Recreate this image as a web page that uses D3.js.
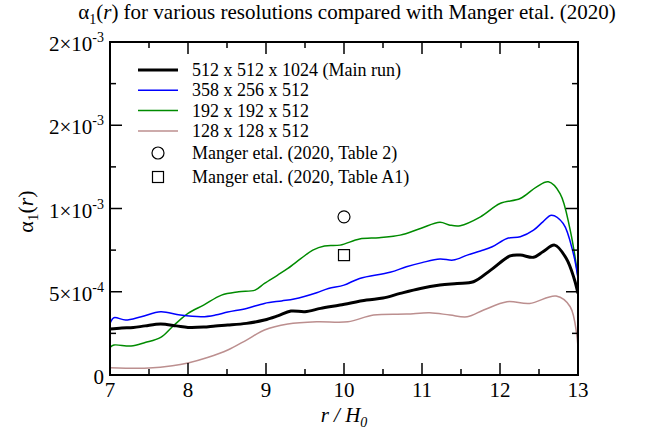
<!DOCTYPE html>
<html>
<head>
<meta charset="utf-8">
<script src="https://cdn.jsdelivr.net/npm/d3@7"></script>
<style>
  body { margin: 0; background: #fff; }
  svg { display: block; }
</style>
</head>
<body>
<script>
// radius in units of H0, alpha_1 in units of 1e-4
const mainR = [7.0, 7.15, 7.3, 7.45, 7.65, 7.85, 8.0, 8.2, 8.35, 8.51, 8.75, 8.98, 9.15, 9.32, 9.5, 9.7, 9.95, 10.29, 10.5, 10.72, 10.98, 11.23, 11.45, 11.66, 11.88, 12.13, 12.26, 12.43, 12.55, 12.7, 12.85, 12.95, 13.0]
const mainA = [2.76, 2.82, 2.85, 2.95, 3.06, 2.95, 2.86, 2.88, 2.95, 3.0, 3.1, 3.3, 3.55, 3.84, 3.8, 4.0, 4.2, 4.5, 4.62, 4.9, 5.2, 5.4, 5.5, 5.6, 6.3, 7.15, 7.2, 7.07, 7.4, 7.8, 7.0, 5.8, 4.9]

const r358R = [7.0, 7.05, 7.2, 7.4, 7.65, 7.9, 8.18, 8.35, 8.51, 8.75, 8.98, 9.2, 9.36, 9.65, 9.8, 10.0, 10.2, 10.59, 10.8, 11.0, 11.23, 11.4, 11.58, 11.75, 11.9, 12.09, 12.26, 12.43, 12.55, 12.66, 12.81, 12.94, 13.0]
const r358A = [3.1, 3.44, 3.3, 3.5, 3.8, 3.6, 3.5, 3.6, 3.78, 4.0, 4.3, 4.45, 4.56, 4.94, 5.2, 5.4, 5.8, 6.17, 6.5, 6.75, 6.97, 6.9, 7.2, 7.45, 7.7, 8.2, 8.3, 8.7, 9.2, 9.6, 9.1, 7.3, 5.8]

const r192R = [7.0, 7.05, 7.27, 7.45, 7.65, 7.8, 8.0, 8.2, 8.43, 8.65, 8.86, 8.98, 9.15, 9.28, 9.45, 9.6, 9.75, 9.95, 10.2, 10.45, 10.72, 10.98, 11.23, 11.36, 11.49, 11.75, 12.0, 12.26, 12.47, 12.62, 12.77, 12.9, 13.0]
const r192A = [1.66, 1.8, 1.74, 1.95, 2.26, 2.9, 3.7, 4.2, 4.8, 5.0, 5.1, 5.5, 6.0, 6.4, 7.0, 7.5, 7.75, 7.8, 8.17, 8.25, 8.4, 8.8, 9.17, 9.0, 8.97, 9.5, 10.3, 10.6, 11.3, 11.6, 10.9, 8.7, 5.9]

const r128R = [7.0, 7.5, 7.8, 8.0, 8.25, 8.51, 8.75, 8.98, 9.28, 9.65, 10.05, 10.38, 10.8, 11.1, 11.36, 11.58, 11.79, 12.09, 12.38, 12.72, 12.9, 13.0]
const r128A = [0.44, 0.42, 0.55, 0.72, 1.05, 1.5, 2.1, 2.7, 3.06, 3.2, 3.2, 3.6, 3.66, 3.74, 3.6, 3.5, 3.9, 4.4, 4.3, 4.74, 4.1, 1.7]

const seriesNames = ['512 x 512 x 1024 (Main run)', '358 x 256 x 512', '192 x 192 x 512', '128 x 128 x 512']
const seriesColors = ['#000000', '#0000ff', '#008b00', '#bc8f8f']

const mangerNames = ['Manger etal. (2020, Table 2)', 'Manger etal. (2020, Table A1)']
const mangerR = [10.0, 10.0]
const mangerA = [9.5, 7.2]

const xTicks = [7, 8, 9, 10, 11, 12, 13]
const yTicks = [0, 5e-4, 1e-3, 1.5e-3, 2e-3]
const yTickBase = ['0', '5\u00d710', '1\u00d710', '2\u00d710', '2\u00d710']
const yTickExp = ['', '-4', '-3', '-3', '-3']

;(function () {
  const W = 657
  const H = 435
  const pad = { top: 42, right: 79, bottom: 60, left: 110 }
  const pw = W - pad.left - pad.right
  const ph = H - pad.top - pad.bottom
  const serif = '"Liberation Serif", "Times New Roman", serif'

  const svg = d3.select('body').append('svg')
    .attr('width', W)
    .attr('height', H)

  const scaleX = d3.scaleLinear().domain([7, 13]).range([0, pw])
  const scaleY = d3.scaleLinear().domain([0, 2e-3]).range([ph, 0])

  const plot = svg.append('g')
    .attr('transform', 'translate(' + pad.left + ',' + pad.top + ')')

  svg.append('defs').append('clipPath').attr('id', 'clip')
    .append('rect').attr('width', pw).attr('height', ph)

  // series, main run drawn last so it sits on top
  const series = [[mainR, mainA], [r358R, r358A], [r192R, r192A], [r128R, r128A]]
  const line = d3.line()
    .x(function (d) { return scaleX(d[0]) })
    .y(function (d) { return scaleY(d[1] * 1e-4) })
    .curve(d3.curveCatmullRom.alpha(0.5))
  const panel = plot.append('g').attr('clip-path', 'url(#clip)')
  for (let i = series.length - 1; i >= 0; --i) {
    panel.append('path')
      .attr('d', line(d3.zip(series[i][0], series[i][1])))
      .attr('fill', 'none')
      .attr('stroke', seriesColors[i])
      .attr('stroke-width', i === 0 ? 3 : 1.5)
  }

  // Manger etal. points
  plot.append('circle')
    .attr('cx', scaleX(mangerR[0]))
    .attr('cy', scaleY(mangerA[0] * 1e-4))
    .attr('r', 6)
    .attr('fill', 'none')
    .attr('stroke', '#000')
    .attr('stroke-width', 1.2)
  plot.append('rect')
    .attr('x', scaleX(mangerR[1]) - 5.5)
    .attr('y', scaleY(mangerA[1] * 1e-4) - 5.5)
    .attr('width', 11)
    .attr('height', 11)
    .attr('fill', 'none')
    .attr('stroke', '#000')
    .attr('stroke-width', 1.2)

  // ticks point inward on all four sides, major 12px and minor 6px
  const minorX = d3.range(7, 13.01, 0.5)
  const minorY = d3.range(0, 2.01e-3, 2.5e-4)
  function tickLen (v, majors) {
    return majors.some(function (m) { return Math.abs(m - v) < 1e-9 }) ? 12 : 6
  }
  const tg = plot.append('g').attr('stroke', '#000').attr('stroke-width', 1.5)
  minorX.forEach(function (v) {
    const x = scaleX(v)
    const len = tickLen(v, xTicks)
    tg.append('line').attr('x1', x).attr('x2', x).attr('y1', ph).attr('y2', ph - len)
    tg.append('line').attr('x1', x).attr('x2', x).attr('y1', 0).attr('y2', len)
  })
  minorY.forEach(function (v) {
    const y = scaleY(v)
    const len = tickLen(v, yTicks)
    tg.append('line').attr('y1', y).attr('y2', y).attr('x1', 0).attr('x2', len)
    tg.append('line').attr('y1', y).attr('y2', y).attr('x1', pw).attr('x2', pw - len)
  })

  plot.append('rect')
    .attr('width', pw)
    .attr('height', ph)
    .attr('fill', 'none')
    .attr('stroke', '#000')
    .attr('stroke-width', 2)

  // tick labels
  plot.append('g').selectAll('text')
    .data(xTicks)
    .enter()
    .append('text')
    .style('font-family', serif)
    .attr('x', function (d) { return scaleX(d) })
    .attr('y', ph + 22)
    .attr('text-anchor', 'middle')
    .attr('font-size', 21)
    .text(function (d) { return d })

  const yl = plot.append('g').selectAll('text')
    .data(yTicks)
    .enter()
    .append('text')
    .style('font-family', serif)
    .attr('x', -6)
    .attr('y', function (d) { return scaleY(d) + 9 })
    .attr('text-anchor', 'end')
    .attr('font-size', 21)
  yl.append('tspan').text(function (d, i) { return yTickBase[i] })
  yl.append('tspan')
    .attr('dy', -9)
    .attr('font-size', 14)
    .text(function (d, i) { return yTickExp[i] })

  // title
  const title = svg.append('text')
    .style('font-family', serif)
    .attr('x', 347)
    .attr('y', 19)
    .attr('text-anchor', 'middle')
    .attr('font-size', 21)
  title.append('tspan').text('\u03b1')
  title.append('tspan').attr('dy', 5).attr('font-size', 14).text('1')
  title.append('tspan').attr('dy', -5).text('(')
  title.append('tspan').attr('font-style', 'italic').text('r')
  title.append('tspan').text(') for various resolutions compared with Manger etal. (2020)')

  // axis titles
  const xt = svg.append('text')
    .style('font-family', serif)
    .attr('x', pad.left + pw / 2)
    .attr('y', 422)
    .attr('text-anchor', 'middle')
    .attr('font-size', 21)
    .attr('font-style', 'italic')
  xt.append('tspan').text('r / H')
  xt.append('tspan').attr('dy', 5).attr('font-size', 14).text('0')

  const yt = svg.append('text')
    .style('font-family', serif)
    .attr('transform', 'translate(33,' + (pad.top + ph / 2 + 3) + ') rotate(-90)')
    .attr('text-anchor', 'middle')
    .attr('font-size', 22)
  yt.append('tspan').text('\u03b1')
  yt.append('tspan').attr('dy', 5).attr('font-size', 15).text('1')
  yt.append('tspan').attr('dy', -5).text('(')
  yt.append('tspan').attr('font-style', 'italic').text('r')
  yt.append('tspan').text(')')

  // legend
  const legend = plot.append('g').attr('transform', 'translate(28,28)')
  seriesNames.forEach(function (name, i) {
    const y = i * 20.3
    legend.append('line')
      .attr('x1', 0)
      .attr('x2', 40)
      .attr('y1', y)
      .attr('y2', y)
      .attr('stroke', seriesColors[i])
      .attr('stroke-width', i === 0 ? 3 : 1.5)
    legend.append('text')
      .style('font-family', serif)
      .attr('x', 54)
      .attr('y', y + 6)
      .attr('font-size', 18)
      .text(name)
  })

  const my = [83, 107]
  legend.append('circle')
    .attr('cx', 20).attr('cy', my[0]).attr('r', 6)
    .attr('fill', 'none').attr('stroke', '#000').attr('stroke-width', 1.2)
  legend.append('rect')
    .attr('x', 14.5).attr('y', my[1] - 5.5).attr('width', 11).attr('height', 11)
    .attr('fill', 'none').attr('stroke', '#000').attr('stroke-width', 1.2)
  mangerNames.forEach(function (name, i) {
    legend.append('text')
      .style('font-family', serif)
      .attr('x', 54)
      .attr('y', my[i] + 6)
      .attr('font-size', 18)
      .text(name)
  })

  // make sure the serif face is resolved before the picture is taken
  function relayout () {
    svg.selectAll('text').each(function () { this.getComputedTextLength() })
  }
  document.fonts.check('21px "Liberation Serif"')
  relayout()
  Promise.all([
    document.fonts.load('21px "Liberation Serif"'),
    document.fonts.load('italic 21px "Liberation Serif"')
  ]).then(function () {
    relayout()
    svg.selectAll('text').style('font-family', serif)
  })
})()
</script>
</body>
</html>
